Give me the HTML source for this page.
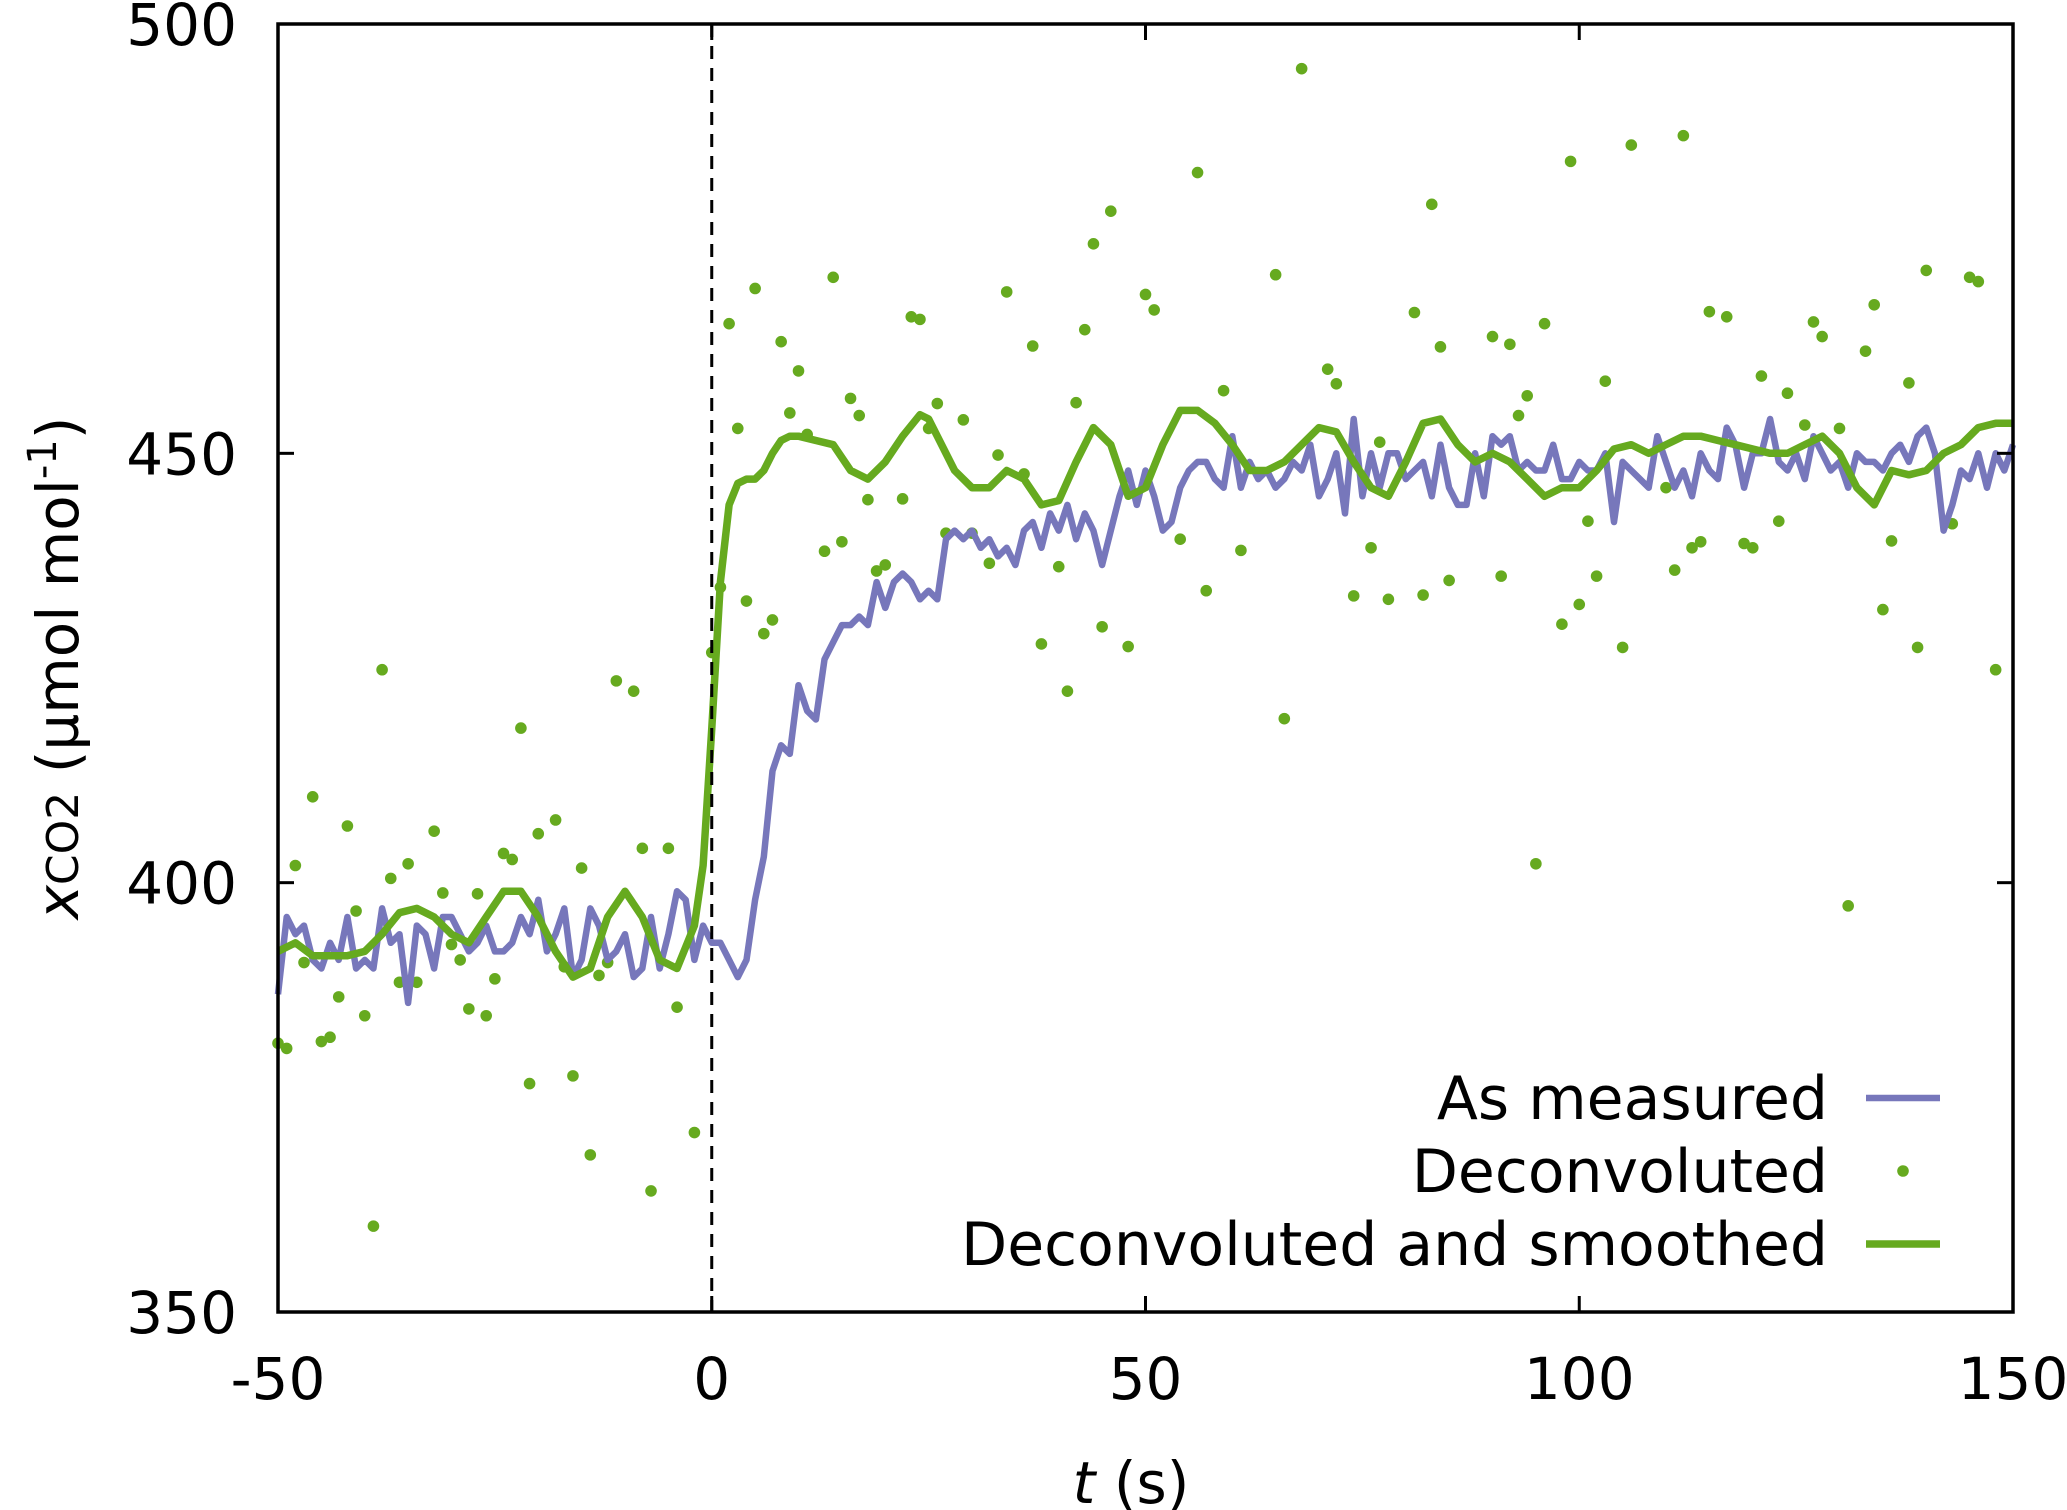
<!DOCTYPE html>
<html><head><meta charset="utf-8"><style>
html,body{margin:0;padding:0;background:#fff;}
svg{display:block;font-family:"DejaVu Sans","Liberation Sans",sans-serif;}
</style></head><body>
<svg id="chart" width="2067" height="1510" viewBox="0 0 2067 1510" xmlns="http://www.w3.org/2000/svg">
<g id="dots"></g>
<g id="lines"></g>
<g id="axes"></g>
<g id="legend"></g>
</svg>
<script>
const xTicks = [-50, 0, 50, 100, 150];
const yTicks = [350, 400, 450, 500];
const measuredStart = -50;
const measured = [387,396,394,395,391,390,393,391,396,390,391,390,397,393,394,386,395,394,390,396,396,394,392,393,395,392,392,393,396,394,398,392,394,397,389,391,397,395,391,392,394,389,390,396,390,394,399,398,391,395,393,393,391,
389,391,398,403,413,416,415,423,420,419,426,428,430,430,431,430,435,432,435,436,435,433,434,433,440,441,440,441,439,440,438,439,437,441,442,439,443,441,444,440,443,441,437,441,445,448,444,448,445,441,442,446,448,449,449,447,446,452,446,449,447,448,446,
447,449,448,451,445,447,450,443,454,445,450,446,450,450,447,448,449,445,451,446,444,444,450,445,452,451,452,448,449,448,448,451,447,447,449,448,448,450,442,449,448,447,446,452,449,446,448,445,450,448,447,453,451,446,450,450,454,449,448,450,447,452,450,448,449,446,450,449,449,448,450,451,449,452,453,450,441,444,448,447,450,446,450,448,451];
const smoothX = [-50,-48,-46,-44,-42,-40,-38,-36,-34,-32,-30,-28,-26,-24,-22,-20,-18,-16,-14,-12,-10,-8,-6,-4,-2,-1,0,1,2,3,4,5,6,7,8,9,10,12,14,16,18,20,22,24,25,26,28,30,32,34,36,38,40,42,44,46,48,50,52,54,56,58,60,62,64,66,68,70,72,74,76,78,80,82,84,86,88,90,92,94,96,98,100,102,104,106,108,110,112,114,116,118,120,122,124,126,128,130,132,134,136,138,140,142,144,146,148,150];
const smoothY = [392,393,391.5,391.5,391.5,392,394,396.5,397,396,394,393,396,399,399,396,392,389,390,396,399,396,391,390,395,402,418,435,444,446.5,447,447,448,450,451.5,452,452,451.5,451,448,447,449,452,454.5,454,452,448,446,446,448,447,444,444.5,449,453,451,445,446,451,455,455,453.5,451,448,448,449,451,453,452.5,449,446,445,449,453.5,454,451,449,450,449,447,445,446,446,448,450.5,451,450,451,452,452,451.5,451,450.5,450,450,451,452,450,446,444,448,447.5,448,450,451,453,453.5,453.5];
const dotX = [-50,-49,-48,-47,-46,-45,-44,-43,-42,-41,-40,-39,-38,-37,-36,-35,-34,-32,-31,-30,-29,-28,-27,-26,-25,-24,-23,-22,-21,-20,-18,-17,-16,-15,-14,-13,-12,-11,-9,-8,-7,-5,-4,-2,0,1,2,3,4,5,6,7,8,9,10,11,13,14,15,16,17,18,19,20,22,23,24,25,26,27,29,30,32,33,34,36,37,38,40,41,42,43,44,45,46,48,50,51,54,56,57,59,61,65,66,68,71,72,74,76,77,78,81,82,83,84,85,90,91,92,93,94,95,96,98,99,100,101,102,103,105,106,110,111,112,113,114,115,117,119,120,121,123,124,126,127,128,130,131,133,134,135,136,138,139,140,143,145,146,148];
const dotY = [381.3,380.7,402,390.7,410,381.5,382,386.7,406.6,396.7,384.5,360,424.8,400.5,388.4,402.2,388.4,406,398.8,392.8,391,385.3,398.7,384.5,388.8,403.4,402.7,418,376.6,405.7,407.3,390.2,377.5,401.7,368.3,389.2,390.7,423.5,422.3,404,364.1,404,385.5,370.9,426.8,434.4,465.1,452.9,432.8,469.2,429,430.6,463,454.7,459.6,452.2,438.6,470.5,439.7,456.4,454.4,444.6,436.3,437,444.7,465.9,465.6,452.9,455.8,440.7,453.9,440.7,437.2,449.8,468.8,447.6,462.5,427.8,436.8,422.3,455.9,464.4,474.4,429.8,478.2,427.5,468.5,466.7,440,482.7,434,457.3,438.7,470.8,419.1,494.8,459.8,458.1,433.4,439,451.3,433,466.4,433.5,479,462.4,435.2,463.6,435.7,462.7,454.4,456.7,402.2,465.1,430.1,484,432.4,442.1,435.7,458.4,427.4,485.9,446,436.4,487,439,439.7,466.5,465.9,439.5,439,459,442.1,457,453.3,465.3,463.6,452.9,397.3,461.9,467.3,431.8,439.8,458.2,427.4,471.3,441.8,470.5,470,424.8];

const L=278, R=2013, T=24, B=1312;
const xs = v => L + (v + 50) / 200 * (R - L);
const ys = v => B - (v - 350) / 150 * (B - T);
const NS = 'http://www.w3.org/2000/svg';
function mk(tag, attrs, parent) {
  const e = document.createElementNS(NS, tag);
  for (const k in attrs) e.setAttribute(k, attrs[k]);
  parent.appendChild(e);
  return e;
}
const gD = document.getElementById('dots'), gL = document.getElementById('lines'), gA = document.getElementById('axes'), gG = document.getElementById('legend');
const green = '#66aa1f', purple = '#7777bb';

const dl = mk('line', {x1: xs(0), x2: xs(0), y1: T, y2: B, stroke: '#000', 'stroke-width': 3, 'stroke-dasharray': '13,9'}, gA);



let pm = measured.map((v, i) => (i ? 'L' : 'M') + xs(measuredStart + i).toFixed(1) + ',' + ys(v).toFixed(1)).join('');
const lm = mk('path', {d: pm, fill: 'none', stroke: purple, 'stroke-width': 6.5, 'stroke-linejoin': 'round'}, gL);



dotX.forEach((x, i) => {
  const c = mk('circle', {cx: xs(x), cy: ys(dotY[i]), r: 5.8, fill: green}, gD);
  
  
});

let ps = smoothX.map((x, i) => (i ? 'L' : 'M') + xs(x).toFixed(1) + ',' + ys(smoothY[i]).toFixed(1)).join('');
const ls = mk('path', {d: ps, fill: 'none', stroke: green, 'stroke-width': 7.5, 'stroke-linejoin': 'round'}, gL);



const fr = mk('rect', {x: L, y: T, width: R - L, height: B - T, fill: 'none', stroke: '#000', 'stroke-width': 3.5}, gA);



xTicks.forEach(v => {
  const x = xs(v);
  mk('line', {x1: x, x2: x, y1: B, y2: B - 16, stroke: '#000', 'stroke-width': 3}, gA);
  mk('line', {x1: x, x2: x, y1: T, y2: T + 16, stroke: '#000', 'stroke-width': 3}, gA);
  const t = mk('text', {x: x, y: 1399, 'font-size': 58, 'text-anchor': 'middle', fill: '#000'}, gA);
  t.textContent = v;
  
  
});
yTicks.forEach(v => {
  const y = ys(v);
  mk('line', {x1: L, x2: L + 16, y1: y, y2: y, stroke: '#000', 'stroke-width': 3}, gA);
  mk('line', {x1: R, x2: R - 16, y1: y, y2: y, stroke: '#000', 'stroke-width': 3}, gA);
  const t = mk('text', {x: 237, y: y + 21, 'font-size': 58, 'text-anchor': 'end', fill: '#000'}, gA);
  t.textContent = v;
  
  
});

const xt = mk('text', {x: 1131, y: 1503, 'font-size': 58, 'text-anchor': 'middle', fill: '#000'}, gA);
xt.innerHTML = '<tspan font-style="italic">t</tspan> (s)';


const yt = mk('text', {x: 0, y: 0, 'font-size': 58, 'text-anchor': 'middle', fill: '#000', transform: 'translate(78,668) rotate(-90)'}, gA);
yt.innerHTML = '<tspan font-style="italic">x</tspan><tspan font-size="44">CO2</tspan> (µmol mol<tspan font-size="40" dy="-22">-1</tspan><tspan dy="22">)</tspan>';



const legendLabels = ['As measured', 'Deconvoluted', 'Deconvoluted and smoothed'];
const legendY = [1098, 1171, 1244];
legendLabels.forEach((lab, i) => {
  const t = mk('text', {x: 1828, y: legendY[i] + 21, 'font-size': 60, 'text-anchor': 'end', fill: '#000'}, gG);
  t.textContent = lab;
  
  
});
const s1 = mk('line', {x1: 1866, x2: 1940, y1: legendY[0], y2: legendY[0], stroke: purple, 'stroke-width': 6.5}, gG);


const s2 = mk('circle', {cx: 1903, cy: legendY[1], r: 5.8, fill: green}, gG);


const s3 = mk('line', {x1: 1866, x2: 1940, y1: legendY[2], y2: legendY[2], stroke: green, 'stroke-width': 7.5}, gG);


</script>
</body></html>
